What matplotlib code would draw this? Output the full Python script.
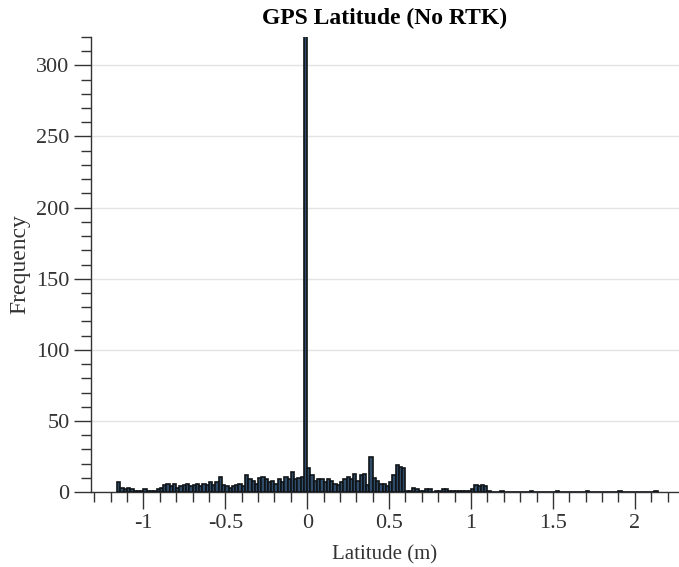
import numpy as np
import matplotlib
matplotlib.use("Agg")
import matplotlib.pyplot as plt
from matplotlib.ticker import MultipleLocator, FuncFormatter

plt.rcParams["font.family"] = ["Liberation Serif", "DejaVu Serif"]
plt.rcParams["axes.unicode_minus"] = False

# histogram of latitude error, 0.02 m bins starting at -1.16 m
bin_start = -1.16
bin_w = 0.02
counts = [
    7, 3, 2, 3, 2, 1, 1, 1,
    2, 1, 1, 1, 2, 3, 5, 6, 4, 6,
    3, 4, 5, 6, 4, 5, 6, 4, 6, 5,
    7, 5, 7, 11, 5, 4, 3, 4, 5, 6,
    4, 12, 9, 8, 6, 10, 11, 9, 7, 8,
    6, 9, 7, 11, 9, 14, 9, 10, 11, 340,
    17, 12, 8, 9, 9, 7, 9, 8, 6, 5,
    7, 9, 11, 9, 13, 8, 12, 13, 5, 25,
    10, 8, 6, 6, 4, 7, 12, 19, 18, 17,
    1, 1, 3, 2, 1, 1, 2, 2, 0, 1,
    1, 2, 2, 1, 1, 1, 1, 1, 1, 1,
    2, 5, 4, 5, 4, 1, 0, 0, 0, 1,
    0, 0, 0, 0, 0, 0, 0, 0, 1, 0,
    0, 0, 0, 0, 0, 0, 1, 0, 0, 0,
    0, 0, 0, 0, 0, 1, 0, 0, 0, 0,
    0, 0, 0, 0, 0, 1, 0, 0, 0, 0,
    0, 0, 0, 0, 0, 0, 1,
]
lefts = bin_start + bin_w * np.arange(len(counts))

fig = plt.figure(figsize=(6.79, 5.67), dpi=100)
ax = fig.add_axes([0.134, 0.132, 0.866, 0.803])

ax.bar(lefts, counts, width=bin_w, align="edge", color="#2f4d6b",
       edgecolor="#101418", linewidth=1.2, zorder=3)

ax.set_xlim(-1.32, 2.27)
ax.set_ylim(0, 320)

ax.xaxis.set_major_locator(MultipleLocator(0.5))
ax.xaxis.set_minor_locator(MultipleLocator(0.1))
ax.yaxis.set_major_locator(MultipleLocator(50))
ax.yaxis.set_minor_locator(MultipleLocator(10))
ax.xaxis.set_major_formatter(FuncFormatter(lambda v, p: f"{v:g}"))

ax.grid(axis="y", which="major", color="#e3e3e3", linewidth=1.0, zorder=0)
for s in ["top", "right"]:
    ax.spines[s].set_visible(False)
for s in ["left", "bottom"]:
    ax.spines[s].set_color("#333333")
    ax.spines[s].set_linewidth(1.0)

ax.tick_params(which="major", direction="out", length=12, width=1.0,
               color="#333333", labelsize=16, labelcolor="#333333")
ax.tick_params(which="minor", direction="out", length=7, width=1.0,
               color="#333333")

ax.set_xlabel("Latitude (m)", fontsize=15, color="#333333", labelpad=9)
ax.set_ylabel("Frequency", fontsize=17, color="#333333", labelpad=4)
ax.set_title("GPS Latitude (No RTK)", fontsize=17, fontweight="bold", pad=9)

fig.savefig("out.png", dpi=100)
